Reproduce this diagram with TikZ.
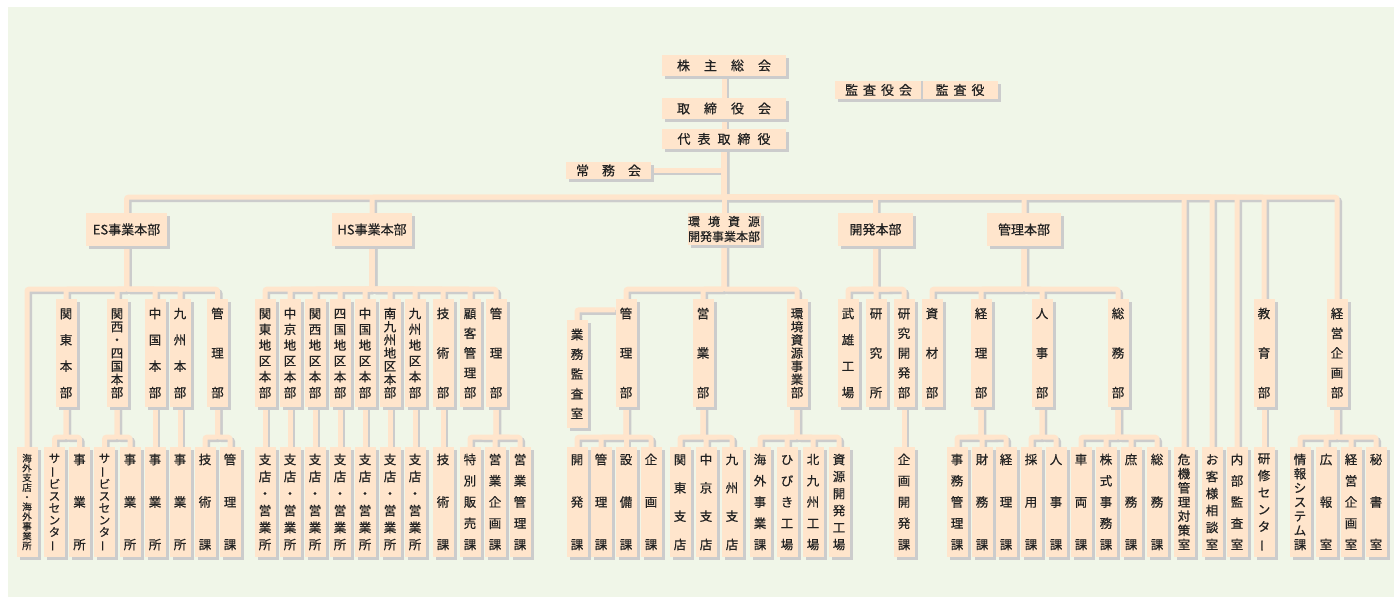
\documentclass[tikz,border=0pt]{standalone}
\usepackage{fontspec}
\setmainfont{Noto Sans CJK JP}[FakeBold=0.5]
\usepackage{graphicx}
\usetikzlibrary{shadows}
\definecolor{bgpanel}{HTML}{F0F6E8}
\definecolor{peach}{HTML}{FFE5CC}
\definecolor{shgray}{HTML}{CCCCCC}
\definecolor{ink}{HTML}{222222}
\pgfdeclarelayer{panel}
\pgfdeclarelayer{background}
\pgfsetlayers{panel,background,main}
\makeatletter
\newcommand\vt[2]{\vbox to #1{\offinterlineskip\vt@first#2\relax}}
\def\vt@first#1{\vt@box{#1}\vt@rest}
\def\vt@rest#1{\ifx#1\relax\else\vfil\vt@box{#1}\expandafter\vt@rest\fi}
\def\vt@box#1{\hbox to 1em{\hss\vrule height .88em depth .12em width 0pt\relax#1\hss}}
\makeatother
\newcommand\VL{\rotatebox[origin=c]{90}{ー}}
\newcommand\vup[1]{\vt{90pt}{#1}}
\newcommand\vlo[1]{\vt{96pt}{#1}}
\newcommand\tr[3]{\foreach \ch in {#3}{\draw[conn] (#1.south) -- ++(0,#2) -| (\ch.north);}}
\tikzset{
  box/.style={rectangle, fill=peach, inner sep=0pt, text=ink,
    drop shadow={shadow xshift=3pt, shadow yshift=-3pt, fill=shgray, opacity=1},
    font=\fontsize{12.5}{14}\selectfont},
  upbox/.style={box, minimum width=21pt, minimum height=108pt},
  lowbox/.style={box, minimum width=21pt, minimum height=110pt},
  hzbox/.style={box, font=\fontsize{13}{15}\selectfont},
  divbox/.style={box, minimum height=33pt, font=\fontsize{13}{15}\selectfont},
  conn/.style={line width=5pt, rounded corners=2pt},
}
\begin{document}
\begin{tikzpicture}[x=1pt,y=-1pt]
\useasboundingbox (0,0) rectangle (1394,604);
\begin{pgfonlayer}{panel}
\fill[bgpanel] (8,7) rectangle (1394,597);
\end{pgfonlayer}
% top
\node[hzbox, minimum width=124pt, minimum height=21pt] (kabu) at (724,65.5) {株\hspace{14pt}主\hspace{14pt}総\hspace{14pt}会};
\node[hzbox, minimum width=124pt, minimum height=21pt] (tori) at (724,108.5) {取\hspace{14pt}締\hspace{14pt}役\hspace{14pt}会};
\node[hzbox, minimum width=124pt, minimum height=20pt] (daihyo) at (724,139) {代\hspace{7pt}表\hspace{7pt}取\hspace{7pt}締\hspace{7pt}役};
\node[hzbox, minimum width=85pt, minimum height=17pt] (jomu) at (608.5,170.5) {常\hspace{13pt}務\hspace{13pt}会};
\node[hzbox, minimum width=87pt, minimum height=18pt] (kansakai) at (878.5,90) {監\hspace{5pt}査\hspace{5pt}役\hspace{5pt}会};
\node[hzbox, minimum width=76pt, minimum height=18pt] (kansayaku) at (960,90) {監\hspace{5pt}査\hspace{5pt}役};
\draw[shgray, line width=1.5pt] (kansakai.north east) -- (kansakai.south east);
% divisions
\node[divbox, minimum width=81pt] (es) at (126.5,229.5) {ES事業本部};
\node[divbox, minimum width=80pt] (hs) at (372,229.5) {HS事業本部};
\node[divbox, minimum width=73pt, minimum height=32pt, align=center, font=\fontsize{12}{15}\selectfont] (kankyo) at (724,229) {環\hspace{8pt}境\hspace{8pt}資\hspace{8pt}源\\開発事業本部};
\node[divbox, minimum width=75pt] (kaihatsu) at (875.5,229.5) {開発本部};
\node[divbox, minimum width=74pt] (kanri) at (1024,229.5) {管理本部};
% upper row
\node[upbox] (kantoES) at (66,353) {\vup{関東本部}};
\node[upbox] (kansaiES) at (117,353) {\vup{関西・四国本部}};
\node[upbox] (chugokuES) at (155,353) {\vup{中国本部}};
\node[upbox] (kyushuES) at (180,353) {\vup{九州本部}};
\node[upbox] (kanriES) at (217.5,353) {\vup{管理部}};
\node[upbox] (h1) at (265,353) {\vup{関東地区本部}};
\node[upbox] (h2) at (290,353) {\vup{中京地区本部}};
\node[upbox] (h3) at (315,353) {\vup{関西地区本部}};
\node[upbox] (h4) at (340,353) {\vup{四国地区本部}};
\node[upbox] (h5) at (365,353) {\vup{中国地区本部}};
\node[upbox] (h6) at (390,353) {\vup{南九州地区本部}};
\node[upbox] (h7) at (415,353) {\vup{九州地区本部}};
\node[upbox] (hgi) at (443,353) {\vup{技術部}};
\node[upbox] (hko) at (470,353) {\vup{顧客管理部}};
\node[upbox] (hka) at (496,353) {\vup{管理部}};
\node[upbox] (gyomu) at (577,374) {\vup{業務監査室}};
\node[upbox] (ekanri) at (626,353) {\vup{管理部}};
\node[upbox] (eeigyo) at (703,353) {\vup{営業部}};
\node[upbox] (ejigyo) at (797,353) {\vup{環境資源事業部}};
\node[upbox] (takeo) at (848,353) {\vup{武雄工場}};
\node[upbox] (kenkyusho) at (876,353) {\vup{研究所}};
\node[upbox] (kenkai) at (904,353) {\vup{研究開発部}};
\node[upbox] (shizai) at (932,353) {\vup{資材部}};
\node[upbox] (keiri) at (981,353) {\vup{経理部}};
\node[upbox] (jinji) at (1042,353) {\vup{人事部}};
\node[upbox] (somu) at (1118,353) {\vup{総務部}};
\node[upbox] (kyoiku) at (1264,353) {\vup{教育部}};
\node[upbox] (keiei) at (1337,353) {\vup{経営企画部}};
% lower row
\node[lowbox, font=\fontsize{9.5}{10}\selectfont] (kaigaiES) at (27,502) {\vlo{海外支店・海外事業所}};
\node[lowbox, font=\fontsize{11.5}{12}\selectfont] (svc1) at (54.5,502) {\vlo{サ\VL ビスセンタ\VL}};
\node[lowbox] (jig1) at (79.5,502) {\vlo{事業所}};
\node[lowbox, font=\fontsize{11.5}{12}\selectfont] (svc2) at (104.5,502) {\vlo{サ\VL ビスセンタ\VL}};
\node[lowbox] (jig2) at (130,502) {\vlo{事業所}};
\node[lowbox] (jig3) at (155,502) {\vlo{事業所}};
\node[lowbox] (jig4) at (180,502) {\vlo{事業所}};
\node[lowbox] (esgi) at (205,502) {\vlo{技術課}};
\node[lowbox] (eska) at (230,502) {\vlo{管理課}};
\node[lowbox] (s1) at (265,502) {\vlo{支店・営業所}};
\node[lowbox] (s2) at (290,502) {\vlo{支店・営業所}};
\node[lowbox] (s3) at (315,502) {\vlo{支店・営業所}};
\node[lowbox] (s4) at (340,502) {\vlo{支店・営業所}};
\node[lowbox] (s5) at (365,502) {\vlo{支店・営業所}};
\node[lowbox] (s6) at (390,502) {\vlo{支店・営業所}};
\node[lowbox] (s7) at (415,502) {\vlo{支店・営業所}};
\node[lowbox] (hgika) at (443,502) {\vlo{技術課}};
\node[lowbox] (tokubetsu) at (470,502) {\vlo{特別販売課}};
\node[lowbox] (eikikaku) at (495,502) {\vlo{営業企画課}};
\node[lowbox] (eikanri) at (520,502) {\vlo{営業管理課}};
\node[lowbox] (kaihatsuka) at (577,502) {\vlo{開発課}};
\node[lowbox] (kanrika) at (601,502) {\vlo{管理課}};
\node[lowbox] (setsubi) at (626,502) {\vlo{設備課}};
\node[lowbox] (kikaku) at (651,502) {\vlo{企画課}};
\node[lowbox] (kanto) at (680,502) {\vlo{関東支店}};
\node[lowbox] (chukyo) at (706,502) {\vlo{中京支店}};
\node[lowbox] (kyushu) at (732,502) {\vlo{九州支店}};
\node[lowbox] (kaigaij) at (760,502) {\vlo{海外事業課}};
\node[lowbox] (hibiki) at (787,502) {\vlo{ひびき工場}};
\node[lowbox] (kitaq) at (813,502) {\vlo{北九州工場}};
\node[lowbox] (shigen) at (839,502) {\vlo{資源開発工場}};
\node[lowbox] (kikakukai) at (904,502) {\vlo{企画開発課}};
\node[lowbox] (jimu) at (957,502) {\vlo{事務管理課}};
\node[lowbox] (zaimu) at (982,502) {\vlo{財務課}};
\node[lowbox] (keirika) at (1006,502) {\vlo{経理課}};
\node[lowbox] (saiyo) at (1031,502) {\vlo{採用課}};
\node[lowbox] (jinjika) at (1056,502) {\vlo{人事課}};
\node[lowbox] (sharyo) at (1081,502) {\vlo{車両課}};
\node[lowbox] (kabushiki) at (1106,502) {\vlo{株式事務課}};
\node[lowbox] (shomu) at (1131,502) {\vlo{庶務課}};
\node[lowbox] (somuka) at (1157,502) {\vlo{総務課}};
\node[lowbox] (kiki) at (1184,502) {\vlo{危機管理対策室}};
\node[lowbox] (okyaku) at (1212,502) {\vlo{お客様相談室}};
\node[lowbox] (naibu) at (1237,502) {\vlo{内部監査室}};
\node[lowbox] (kenshu) at (1264,502) {\vlo{研修センタ\VL}};
\node[lowbox] (joho) at (1300,502) {\vlo{情報システム課}};
\node[lowbox] (koho) at (1326,502) {\vlo{広報室}};
\node[lowbox] (keieishitsu) at (1351,502) {\vlo{経営企画室}};
\node[lowbox] (hisho) at (1376,502) {\vlo{秘書室}};
\newcommand\conns{%
  \draw[conn] (kabu.south) -- (tori.north);
  \draw[conn] (tori.south) -- (daihyo.north);
  \draw[conn] (jomu.east) -- (jomu.east -| daihyo.south);
  \tr{daihyo}{48}{es,hs,kankyo,kaihatsu,kanri,kiki,okyaku,naibu,kyoiku,keiei}
  \tr{es}{43}{kaigaiES,kantoES,kansaiES,chugokuES,kyushuES,kanriES}
  \tr{kantoES}{30}{svc1,jig1}
  \tr{kansaiES}{30}{svc2,jig2}
  \tr{chugokuES}{30}{jig3}
  \tr{kyushuES}{30}{jig4}
  \tr{kanriES}{30}{esgi,eska}
  \tr{hs}{43}{h1,h2,h3,h4,h5,h6,h7,hgi,hko,hka}
  \tr{h1}{30}{s1}
  \tr{h2}{30}{s2}
  \tr{h3}{30}{s3}
  \tr{h4}{30}{s4}
  \tr{h5}{30}{s5}
  \tr{h6}{30}{s6}
  \tr{h7}{30}{s7}
  \tr{hgi}{30}{hgika}
  \tr{hka}{30}{tokubetsu,eikikaku,eikanri}
  \tr{kankyo}{44}{ekanri,eeigyo,ejigyo}
  \draw[conn] ([yshift=-11pt]ekanri.north west) -| (gyomu.north);
  \tr{ekanri}{30}{kaihatsuka,kanrika,setsubi,kikaku}
  \tr{eeigyo}{30}{kanto,chukyo,kyushu}
  \tr{ejigyo}{30}{kaigaij,hibiki,kitaq,shigen}
  \tr{kaihatsu}{43}{takeo,kenkyusho,kenkai}
  \tr{kenkai}{30}{kikakukai}
  \tr{kanri}{43}{shizai,keiri,jinji,somu}
  \tr{keiri}{30}{jimu,zaimu,keirika}
  \tr{jinji}{30}{saiyo,jinjika}
  \tr{somu}{30}{sharyo,kabushiki,shomu,somuka}
  \tr{kyoiku}{30}{kenshu}
  \tr{keiei}{30}{joho,koho,keieishitsu,hisho}
}
\begin{pgfonlayer}{background}
  \begin{scope}[transform canvas={xshift=2.5pt,yshift=-2.5pt}, color=shgray]
    \conns
  \end{scope}
  \begin{scope}[color=peach]
    \conns
  \end{scope}
\end{pgfonlayer}
\end{tikzpicture}
\end{document}
